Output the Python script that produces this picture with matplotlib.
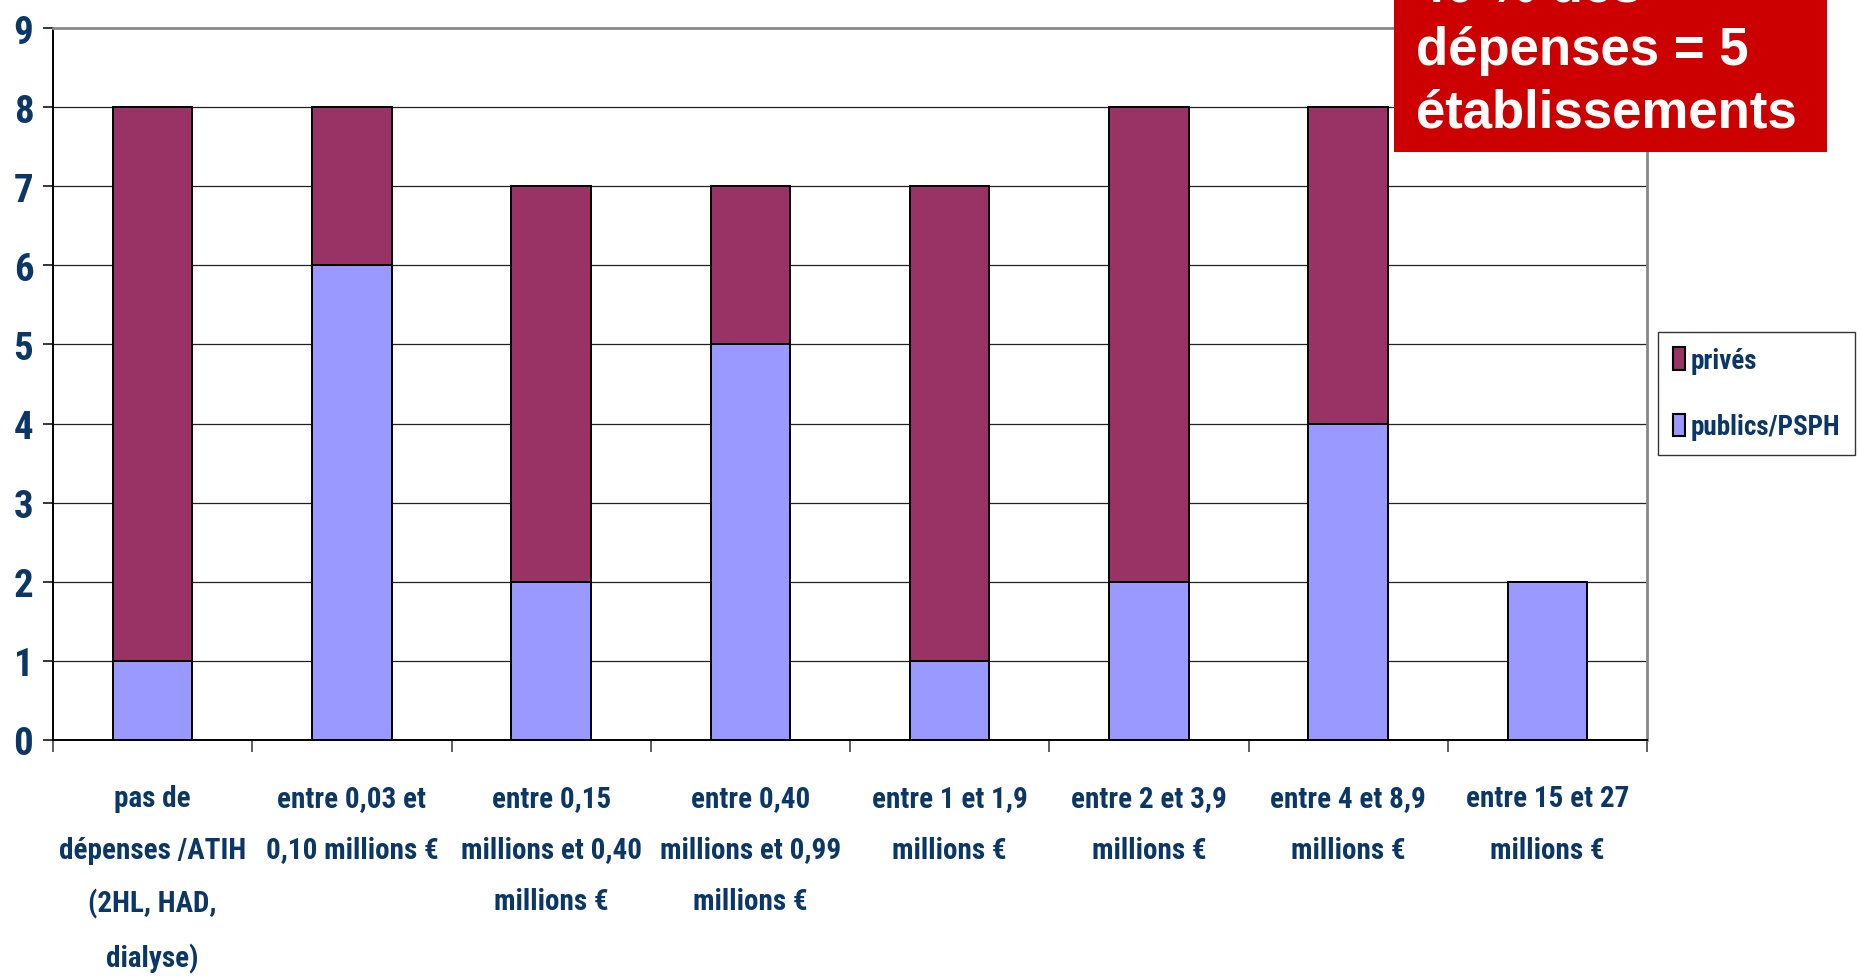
import matplotlib
matplotlib.use("Agg")
import matplotlib.pyplot as plt
from matplotlib.patches import Rectangle, Patch
import numpy as np

categories = [
    "pas de\ndépenses /ATIH\n(2HL, HAD,\ndialyse)",
    "entre 0,03 et\n0,10 millions €",
    "entre 0,15\nmillions et 0,40\nmillions €",
    "entre 0,40\nmillions et 0,99\nmillions €",
    "entre 1 et 1,9\nmillions €",
    "entre 2 et 3,9\nmillions €",
    "entre 4 et 8,9\nmillions €",
    "entre 15 et 27\nmillions €",
]
publics = [1, 6, 2, 5, 1, 2, 4, 2]
prives = [7, 2, 5, 2, 6, 6, 4, 0]
series_names = ["privés", "publics/PSPH"]
yticks = list(range(0, 10))
note_lines = ["40 % des", "dépenses = 5", "établissements"]

W, H = 1859, 979
fig = plt.figure(figsize=(W / 100, H / 100), dpi=100)
ax = fig.add_axes([53 / W, 1 - 741 / H, (1647 - 53) / W, (741 - 29) / H])

navy = "#0b3766"
narrow = ["Roboto Condensed", "DejaVu Sans"]

x = np.arange(len(categories))
c_pub = "#9999ff"
c_priv = "#993366"
ax.bar(x, publics, width=0.40, color=c_pub, edgecolor="black", linewidth=1.4, zorder=3)
ax.bar(x, prives, width=0.40, bottom=publics, color=c_priv, edgecolor="black",
       linewidth=1.4, zorder=3)

ax.set_xlim(-0.5, len(categories) - 0.5)
ax.set_ylim(0, 9)
ax.set_yticks(yticks)
for v in yticks[1:-1]:
    ax.axhline(v, color="#222222", linewidth=0.9, zorder=1)

ax.set_xticks(np.arange(len(categories) + 1) - 0.5, minor=False)
ax.set_xticklabels([])
ax.set_xticks(x, minor=True)
ax.set_xticklabels(categories, minor=True, family=narrow, fontweight="bold",
                   fontsize=21, color=navy, linespacing=2.05, va="top")
ax.tick_params(axis="x", which="minor", length=0, pad=32)
ax.tick_params(axis="x", which="major", length=8.6, width=1.1, color="#333333")
ax.tick_params(axis="y", length=7.2, width=1.1, pad=7)
for lab in ax.get_yticklabels():
    lab.set_family(narrow)
    lab.set_fontweight("bold")
    lab.set_fontsize(28)
    lab.set_color(navy)

for s in ["left", "bottom"]:
    ax.spines[s].set_color("black")
    ax.spines[s].set_linewidth(1.4)
for s in ["top", "right"]:
    ax.spines[s].set_color("#888888")
    ax.spines[s].set_linewidth(2.0)

handles = [Patch(facecolor=c_priv, edgecolor="black", linewidth=1.5),
           Patch(facecolor=c_pub, edgecolor="black", linewidth=1.5)]
leg = fig.legend(handles, series_names, loc="upper left",
                 bbox_to_anchor=(1658 / W, 1 - 333 / H),
                 prop={"family": narrow, "weight": "bold", "size": 19.5},
                 frameon=True, fancybox=False, edgecolor="black",
                 handlelength=0.45, handleheight=0.9, handletextpad=0.2,
                 labelspacing=1.45, borderpad=0.55, borderaxespad=0)
leg.get_frame().set_linewidth(1.0)
for t in leg.get_texts():
    t.set_color(navy)

# red annotation box
fig.patches.append(Rectangle((1394 / W, 1 - 153 / H), (1827 - 1394) / W, 160 / H,
                             transform=fig.transFigure, facecolor="#cc0000",
                             edgecolor="none", zorder=10, clip_on=False))
baselines = [2, 65, 128]
for line, b in zip(note_lines, baselines):
    fig.text(1416 / W, 1 - b / H, line, color="white", fontsize=38,
             fontweight="bold", family=["Liberation Sans", "DejaVu Sans"],
             va="baseline", ha="left", zorder=11)

fig.savefig("out.png", dpi=100)
